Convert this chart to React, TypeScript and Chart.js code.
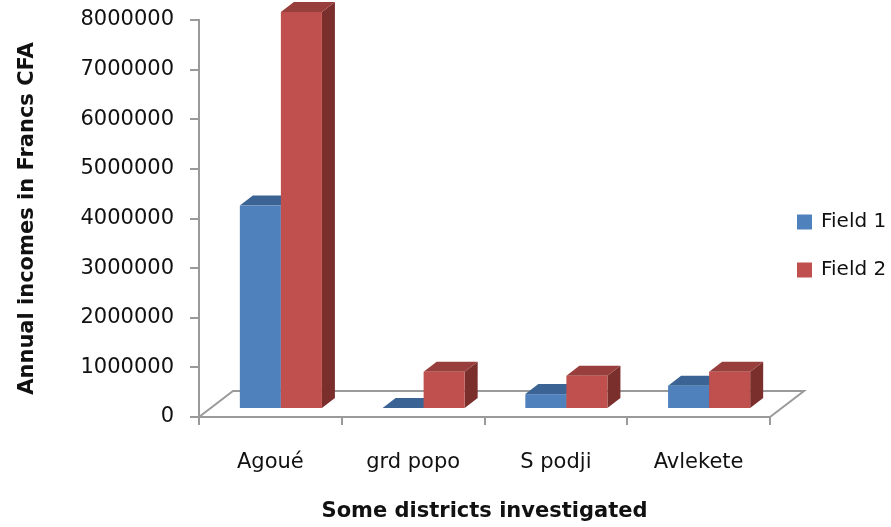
import React, { useEffect, useRef } from 'react';
import { Chart, registerables } from 'chart.js';

Chart.register(...registerables);

const categories = ['Agoué', 'grd popo', 'S podji', 'Avlekete'];
const field1Values = [4100000, 20000, 300000, 470000];
const field2Values = [8000000, 750000, 670000, 750000];
const seriesLabels = ['Field 1', 'Field 2'];
const yMin = 0;
const yMax = 8000000;
const yStep = 1000000;
const yTitle = 'Annual incomes in Francs CFA';
const xTitle = 'Some districts investigated';

const FONT = "'DejaVu Sans', sans-serif";
const AXIS = '#9a9a9a';
const TEXT = '#111111';

const faces = [
  { front: '#4F81BD', top: '#3B6495', side: '#335780' },
  { front: '#C0504D', top: '#983E3C', side: '#7B2F2D' },
];

export default function App() {
  const ref = useRef<HTMLCanvasElement>(null);

  useEffect(() => {
    const canvas = ref.current!;
    const FX = 10.5, FY = -8; // bar front plane shift (mid depth)
    const BX = 13, BY = -10; // bar depth
    const DX = 34, DY = -26; // floor depth

    const plugin = {
      id: 'bars3d',
      beforeDatasetsDraw(chart: any) {
        const ctx = chart.ctx as CanvasRenderingContext2D;
        const xs = chart.scales.x;
        const ys = chart.scales.y;
        const fy = ys.getPixelForValue(0);
        ctx.save();
        ctx.strokeStyle = AXIS;
        ctx.lineWidth = 2;
        ctx.beginPath();
        ctx.moveTo(xs.left, fy);
        ctx.lineTo(xs.left + DX, fy + DY);
        ctx.lineTo(xs.right + DX, fy + DY);
        ctx.lineTo(xs.right, fy);
        ctx.stroke();

        chart.data.datasets.forEach((_ds: any, di: number) => {
          const meta = chart.getDatasetMeta(di);
          const f = faces[di];
          meta.data.forEach((el: any) => {
            const p = el.getProps(['x', 'y', 'base', 'width'], true);
            const x0 = p.x - p.width / 2 + FX;
            const x1 = p.x + p.width / 2 + FX;
            const y0 = p.y + FY;
            const b = p.base + FY;
            ctx.fillStyle = f.side;
            ctx.beginPath();
            ctx.moveTo(x1, y0);
            ctx.lineTo(x1 + BX, y0 + BY);
            ctx.lineTo(x1 + BX, b + BY);
            ctx.lineTo(x1, b);
            ctx.closePath();
            ctx.fill();
            ctx.fillStyle = f.top;
            ctx.beginPath();
            ctx.moveTo(x0, y0);
            ctx.lineTo(x0 + BX, y0 + BY);
            ctx.lineTo(x1 + BX, y0 + BY);
            ctx.lineTo(x1, y0);
            ctx.closePath();
            ctx.fill();
            ctx.fillStyle = f.front;
            ctx.fillRect(x0, y0, x1 - x0, b - y0);
          });
        });
        ctx.restore();
        return false;
      },
      afterDraw(chart: any) {
        const ctx = chart.ctx as CanvasRenderingContext2D;
        const ca = chart.chartArea;
        ctx.save();
        ctx.font = `20px ${FONT}`;
        ctx.textBaseline = 'middle';
        ctx.textAlign = 'left';
        chart.data.datasets.forEach((ds: any, i: number) => {
          const cy = 222 + i * 48;
          const lx = ca.right + 27;
          ctx.fillStyle = faces[i].front;
          ctx.fillRect(lx, cy - 7.5, 15, 15);
          ctx.fillStyle = TEXT;
          ctx.fillText(ds.label, lx + 24, cy);
        });
        ctx.restore();
      },
    };

    const chart = new Chart(canvas, {
      type: 'bar',
      data: {
        labels: categories,
        datasets: [
          { label: seriesLabels[0], data: field1Values, backgroundColor: faces[0].front, clip: false as any },
          { label: seriesLabels[1], data: field2Values, backgroundColor: faces[1].front, clip: false as any },
        ],
      },
      options: {
        animation: false,
        responsive: false,
        devicePixelRatio: 1,
        layout: { padding: { left: 0, right: 121, top: 20, bottom: 0 } },
        plugins: { legend: { display: false }, tooltip: { enabled: false } },
        datasets: { bar: { categoryPercentage: 0.575, barPercentage: 1.0 } },
        scales: {
          x: {
            offset: true,
            grid: { display: true, offset: true, drawOnChartArea: false, drawTicks: true, tickLength: 8, color: AXIS, lineWidth: 2 },
            border: { display: true, color: AXIS, width: 2 },
            ticks: { color: TEXT, font: { family: FONT, size: 21 }, padding: 25, maxRotation: 0 },
            title: { display: true, text: xTitle, color: TEXT, font: { family: FONT, size: 21, weight: 'bold' }, padding: { top: 4, bottom: 3 } },
            afterFit(scale: any) { scale.height = 110; },
          },
          y: {
            min: yMin,
            max: yMax,
            ticks: { stepSize: yStep, color: TEXT, font: { family: FONT, size: 21 }, padding: 16, callback: (v: any) => String(v) },
            grid: { display: true, drawOnChartArea: false, drawTicks: true, tickLength: 9, color: AXIS, lineWidth: 2 },
            border: { display: true, color: AXIS, width: 2 },
            title: { display: true, text: yTitle, color: TEXT, font: { family: FONT, size: 21, weight: 'bold' }, padding: { top: 15, bottom: 4 } },
            afterFit(scale: any) {
              scale.width = 199;
              scale.paddingTop = 0;
              scale.paddingBottom = 0;
            },
          },
        },
      },
      plugins: [plugin],
    });
    return () => chart.destroy();
  }, []);

  return (
    <div style={{ position: 'fixed', left: 0, top: 0, width: 891, height: 527, background: '#fff' }}>
      <canvas ref={ref} width={891} height={527} style={{ width: 891, height: 527, display: 'block' }} />
    </div>
  );
}
